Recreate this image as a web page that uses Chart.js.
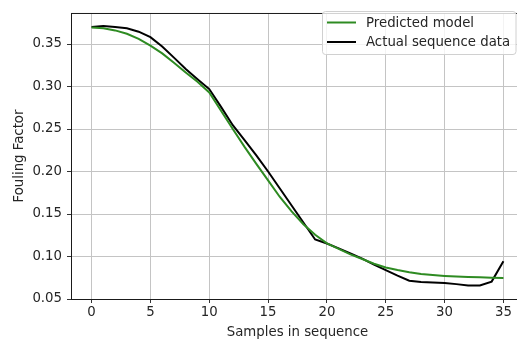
<!DOCTYPE html>
<html>
<head>
<meta charset="utf-8">
<script src="https://cdn.jsdelivr.net/npm/chart.js@4.4.0/dist/chart.umd.min.js"></script>
<style>
  html, body { margin: 0; padding: 0; background: #fff; overflow: hidden; }
  #wrap { width: 530px; height: 345px; }
</style>
</head>
<body>
<div id="wrap"><canvas id="chart" width="530" height="345"></canvas></div>
<script>
// samples in sequence
const samples = [0, 1, 2, 3, 4, 5, 6, 7, 8, 9, 10, 11, 12, 13, 14, 15, 16, 17,
                 18, 19, 20, 21, 22, 23, 24, 25, 26, 27, 28, 29, 30, 31, 32, 33, 34, 35];

const predicted = [0.3695, 0.3685, 0.366, 0.362, 0.356, 0.348, 0.339, 0.328, 0.3165, 0.3055,
                   0.293, 0.2715, 0.250, 0.229, 0.209, 0.1895, 0.170, 0.153, 0.138, 0.1255,
                   0.1155, 0.109, 0.1025, 0.097, 0.0915, 0.087, 0.084, 0.0815, 0.0795, 0.0782,
                   0.0772, 0.0765, 0.076, 0.0755, 0.075, 0.0748];

const actual = [0.370, 0.3713, 0.370, 0.3685, 0.3645, 0.358, 0.347, 0.334, 0.3205, 0.3085,
                0.297, 0.276, 0.2545, 0.237, 0.219, 0.200, 0.180, 0.160, 0.140, 0.120,
                0.1153, 0.1095, 0.1035, 0.0975, 0.0905, 0.084, 0.0775, 0.0715, 0.070, 0.0695,
                0.0688, 0.0675, 0.066, 0.0658, 0.0705, 0.0945];

const xTicks = [0, 5, 10, 15, 20, 25, 30, 35];
const yTicks = [0.05, 0.10, 0.15, 0.20, 0.25, 0.30, 0.35];

const FONT = "'DejaVu Sans', 'Liberation Sans', sans-serif";
const TXT = '#262626';

const toPts = ys => samples.map((x, i) => ({ x, y: ys[i] }));

// box around the axes + legend in the upper right corner
const framePlugin = {
  id: 'frame',
  afterDraw(chart) {
    const { ctx, chartArea: a } = chart;
    ctx.save();
    ctx.strokeStyle = '#1a1a1a';
    ctx.lineWidth = 1;
    ctx.strokeRect(a.left + 0.5, a.top + 0.5, a.right - a.left, a.bottom - a.top);

    const bx = 322.5, by = 11.5, bw = 517 - 322.5 - 1, bh = 43;
    ctx.beginPath();
    ctx.roundRect(bx, by, bw, bh, 3);
    ctx.fillStyle = 'rgba(255,255,255,0.8)';
    ctx.fill();
    ctx.strokeStyle = '#d0d0d0';
    ctx.stroke();

    ctx.font = '13.3px ' + FONT;
    ctx.textBaseline = 'middle';
    chart.data.datasets.forEach((ds, i) => {
      const y = 22.5 + i * 19.5;
      ctx.beginPath();
      ctx.moveTo(327, y);
      ctx.lineTo(356, y);
      ctx.strokeStyle = ds.borderColor;
      ctx.lineWidth = 2;
      ctx.stroke();
      ctx.fillStyle = TXT;
      ctx.fillText(ds.label, 366, y + 1);
    });
    ctx.restore();
  }
};

new Chart(document.getElementById('chart'), {
  type: 'line',
  data: {
    datasets: [
      { label: 'Predicted model', data: toPts(predicted), borderColor: '#2e8b22',
        borderWidth: 2, pointRadius: 0, tension: 0, fill: false },
      { label: 'Actual sequence data', data: toPts(actual), borderColor: '#000000',
        borderWidth: 2, pointRadius: 0, tension: 0, fill: false }
    ]
  },
  options: {
    responsive: false,
    animation: false,
    events: [],
    layout: { padding: { left: 0, right: 6, top: 4, bottom: 0 } },
    plugins: { legend: { display: false }, tooltip: { enabled: false } },
    scales: {
      x: {
        type: 'linear',
        min: -1.75,
        max: 36.75,
        afterBuildTicks: s => { s.ticks = xTicks.map(v => ({ value: v })); },
        afterFit: s => { s.height = 46; },
        grid: { color: '#c4c4c4', lineWidth: 1, tickColor: '#333', tickLength: 4 },
        border: { display: false },
        ticks: { color: TXT, font: { family: FONT, size: 13.3 }, padding: 2, maxRotation: 0,
                 callback: v => String(v) },
        title: { display: true, text: 'Samples in sequence', color: TXT,
                 font: { family: FONT, size: 13.3 }, padding: { top: 0, bottom: 4 } }
      },
      y: {
        type: 'linear',
        min: 0.05,
        max: 0.3865,
        afterBuildTicks: s => { s.ticks = yTicks.map(v => ({ value: v })); },
        afterFit: s => { s.width = 71; },
        grid: { color: '#c4c4c4', lineWidth: 1, tickColor: '#333', tickLength: 4 },
        border: { display: false },
        ticks: { color: TXT, font: { family: FONT, size: 13.3 }, padding: 5,
                 callback: v => v.toFixed(2) },
        title: { display: true, text: 'Fouling Factor', color: TXT,
                 font: { family: FONT, size: 13.3 }, padding: { top: 12, bottom: 0 } }
      }
    }
  },
  plugins: [framePlugin]
});
</script>
</body>
</html>
